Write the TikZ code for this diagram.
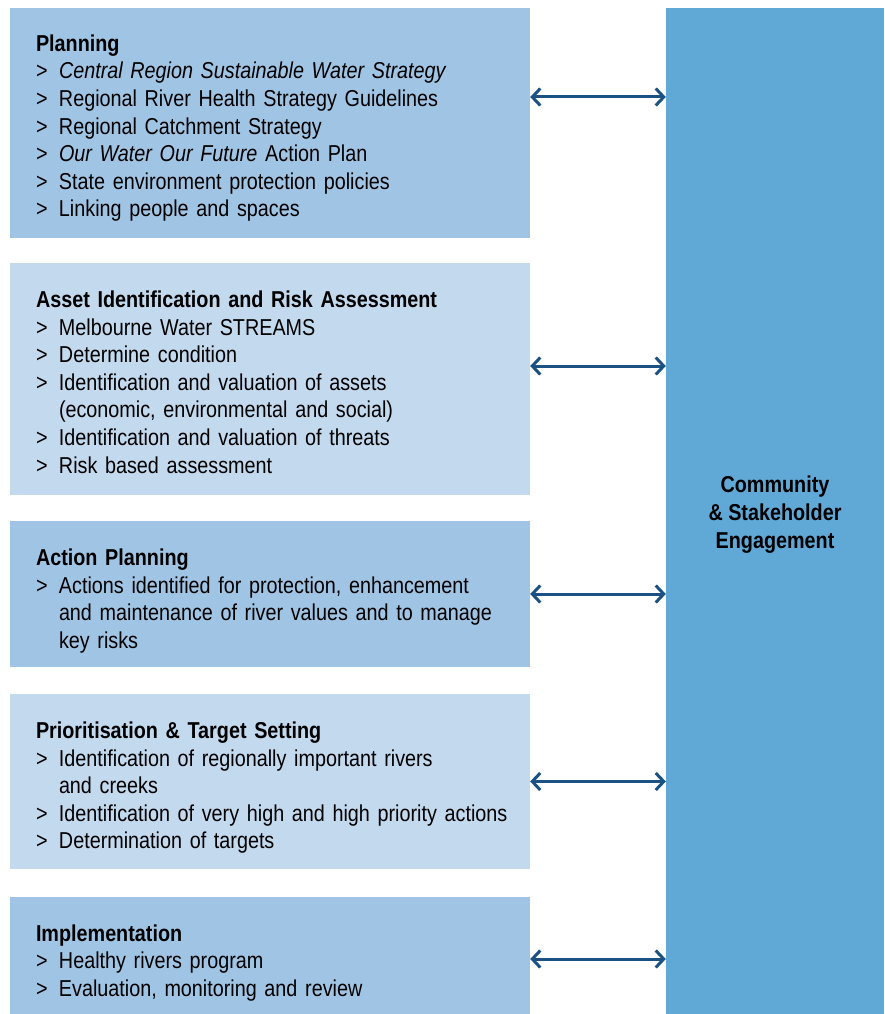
\documentclass[tikz,border=0pt]{standalone}
\usepackage{fontspec}
\setmainfont{Liberation Sans}[FakeStretch=0.86]
\usepackage{tikz}
\usetikzlibrary{arrows.meta,positioning}
\definecolor{stagedark}{HTML}{A0C5E4}
\definecolor{stagelight}{HTML}{C2D9EE}
\definecolor{engage}{HTML}{60A8D6}
\definecolor{link}{HTML}{1B5283}
% title line, with a strut that lowers the text block
\newcommand{\ttl}[2]{\rule{0pt}{#2pt}\textbf{#1}}
\newcommand{\itm}[1]{\mbox{\makebox[23pt][l]{>}#1}}
\newcommand{\cnt}[1]{\mbox{\hspace*{23pt}#1}}

\begin{document}
\begin{tikzpicture}[
    x=1pt, y=-1pt,
    stagebox/.style={draw=none, minimum width=520pt, text width=468pt, inner xsep=26pt, inner ysep=0pt, align=left, font=\fontsize{23}{27.6}\selectfont},
    arrow/.style={{Straight Barb[length=8pt,width=17pt,line width=3pt]}-{Straight Barb[length=8pt,width=17pt,line width=3pt]}, line width=3pt, link}
]
    % Canvas
    \useasboundingbox (0,0) rectangle (884,1014);

    % Engagement column
    \node[fill=engage, minimum width=218pt, minimum height=1006pt, inner sep=0pt, align=center,
          font=\bfseries\fontsize{23}{28}\selectfont] (comm) at (775,511) {
        \rule{0pt}{23pt}Community\\
        \& Stakeholder\\
        Engagement
    };

    % Planning box
    \node[stagebox, fill=stagedark, minimum height=230pt] (plan) at (270,123) {
        \ttl{Planning}{27}\\
        \itm{\textit{Central Region Sustainable Water Strategy}}\\
        \itm{Regional River Health Strategy Guidelines}\\
        \itm{Regional Catchment Strategy}\\
        \itm{\textit{Our Water Our Future} Action Plan}\\
        \itm{State environment protection policies}\\
        \itm{Linking people and spaces}
    };

    % Asset identification box
    \node[stagebox, fill=stagelight, minimum height=232pt] (asset) at (270,379) {
        \ttl{Asset Identification and Risk Assessment}{23}\\
        \itm{Melbourne Water STREAMS}\\
        \itm{Determine condition}\\
        \itm{Identification and valuation of assets}\\
        \cnt{(economic, environmental and social)}\\
        \itm{Identification and valuation of threats}\\
        \itm{Risk based assessment}
    };

    % Action planning box
    \node[stagebox, fill=stagedark, minimum height=146pt] (action) at (270,594) {
        \ttl{Action Planning}{31}\\
        \itm{Actions identified for protection, enhancement}\\
        \cnt{and maintenance of river values and to manage}\\
        \cnt{key risks}
    };

    % Prioritisation box
    \node[stagebox, fill=stagelight, minimum height=175pt] (prior) at (270,781.5) {
        \ttl{Prioritisation \& Target Setting}{29}\\
        \itm{Identification of regionally important rivers}\\
        \cnt{and creeks}\\
        \itm{Identification of very high and high priority actions}\\
        \itm{Determination of targets}
    };

    % Implementation box
    \node[stagebox, fill=stagedark, minimum height=117pt] (impl) at (270,955.5) {
        \ttl{Implementation}{31}\\
        \itm{Healthy rivers program}\\
        \itm{Evaluation, monitoring and review}
    };

    % Links to engagement
    \draw[arrow] ([yshift=26pt]plan.east) -- ([yshift=26pt]plan.east -| comm.west);
    \draw[arrow] ([yshift=13pt]asset.east) -- ([yshift=13pt]asset.east -| comm.west);
    \draw[arrow] (action.east) -- (action.east -| comm.west);
    \draw[arrow] (prior.east) -- (prior.east -| comm.west);
    \draw[arrow] ([yshift=-3.5pt]impl.east) -- ([yshift=-3.5pt]impl.east -| comm.west);
\end{tikzpicture}
\end{document}
